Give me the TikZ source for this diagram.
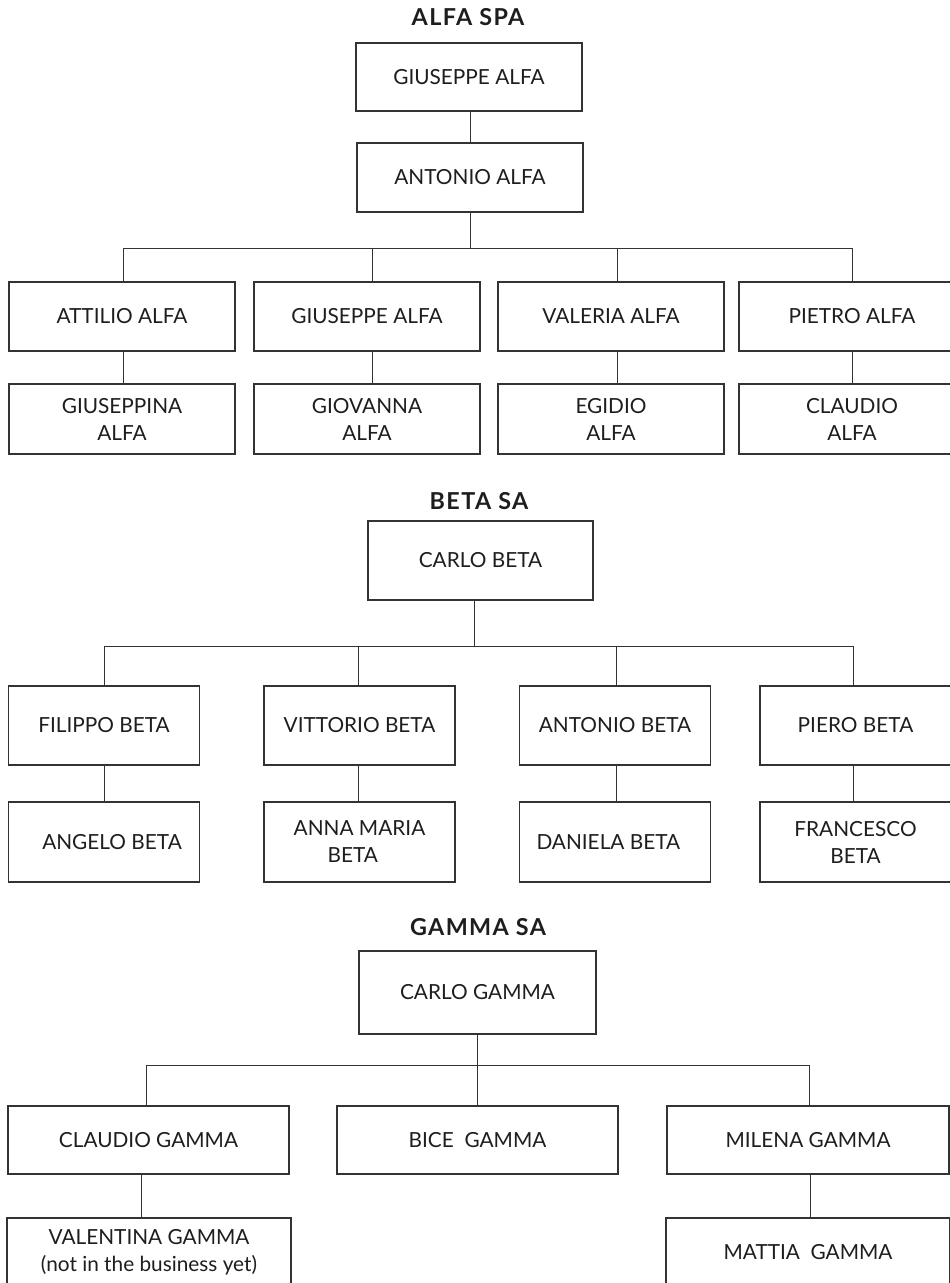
\documentclass[tikz,border=0pt]{standalone}
\usepackage{fontspec}
\setmainfont{Lato}
\definecolor{linec}{HTML}{333333}
\definecolor{txt}{HTML}{1E1E1E}
\begin{document}
\begin{tikzpicture}[x=0.75pt,y=-0.75pt,
  box/.style={draw=linec, line width=0.8pt, rectangle, inner sep=0pt, align=center,
    font=\fontsize{15.6}{20.2}\selectfont, text=txt},
  sz/.style 2 args={minimum width=#1*0.75pt, minimum height=#2*0.75pt},
  ttl/.style={font=\fontsize{17.5}{18}\selectfont\bfseries\addfontfeatures{LetterSpace=6}, text=txt},
  conn/.style={draw=linec, line width=0.75pt}]
\clip (0,0) rectangle (950,1283);
\fill[white] (0,0) rectangle (950,1283);

% ---------------- ALFA SPA ----------------
\node[ttl] (tA) at (468,17) {ALFA SPA};
\node[box, sz={226}{68}] (a0) at (469,77) {GIUSEPPE ALFA};
\node[box, sz={226}{69}] (a1) at (470,177.5) {ANTONIO ALFA};
\coordinate (aH) at (470,248);
\coordinate (aL) at (123,248);
\coordinate (aM1) at (372,248);
\coordinate (aM2) at (617,248);
\coordinate (aR) at (852,248);

\node[box, sz={226}{69}] (a21) at (122,316.5) {ATTILIO ALFA};
\node[box, sz={226}{69}] (a22) at (367,316.5) {GIUSEPPE ALFA};
\node[box, sz={226}{69}] (a23) at (611,316.5) {VALERIA ALFA};
\node[box, sz={226}{69}] (a24) at (852,316.5) {PIETRO ALFA};

\node[box, sz={226}{70}] (a31) at (122,419) {GIUSEPPINA\\ALFA};
\node[box, sz={226}{70}] (a32) at (367,419) {GIOVANNA\\ALFA};
\node[box, sz={226}{70}] (a33) at (611,419) {EGIDIO\\ALFA};
\node[box, sz={226}{70}] (a34) at (852,419) {CLAUDIO\\ALFA};

\draw[conn] (a1.north |- a0.south) -- (a1.north);
\draw[conn] (a1.south) -- (aH);
\draw[conn] (aL) -- (aR);
\draw[conn] (aL) -- (aL |- a21.north);
\draw[conn] (aM1) -- (aM1 |- a22.north);
\draw[conn] (aM2) -- (aM2 |- a23.north);
\draw[conn] (aR) -- (aR |- a24.north);
\draw[conn] (aL |- a21.south) -- (aL |- a31.north);
\draw[conn] (aM1 |- a22.south) -- (aM1 |- a32.north);
\draw[conn] (aM2 |- a23.south) -- (aM2 |- a33.north);
\draw[conn] (aR |- a24.south) -- (aR |- a34.north);

% ---------------- BETA SA ----------------
\node[ttl] (tB) at (479,501) {BETA SA};
\node[box, sz={225}{79}] (b0) at (480.5,560.5) {CARLO BETA};
\coordinate (bH) at (474,646);
\coordinate (bL) at (104,646);
\coordinate (bM1) at (358,646);
\coordinate (bM2) at (616,646);
\coordinate (bR) at (853,646);

\node[box, sz={191}{79}] (b21) at (104,725.5) {FILIPPO BETA};
\node[box, sz={191}{79}] (b22) at (359.5,725.5) {VITTORIO BETA};
\node[box, sz={191}{79}] (b23) at (615,725.5) {ANTONIO BETA};
\node[box, sz={191}{79}] (b24) at (855.5,725.5) {PIERO BETA};

\node[box, sz={191}{80}] (b31) at (104,842) {\hspace*{12pt}ANGELO BETA};
\node[box, sz={191}{80}] (b32) at (359.5,842) {ANNA MARIA\\BETA\hspace*{10pt}};
\node[box, sz={191}{80}] (b33) at (615,842) {DANIELA BETA\hspace*{10pt}};
\node[box, sz={191}{80}] (b34) at (855.5,842) {FRANCESCO\\BETA};

\draw[conn] (bH |- b0.south) -- (bH);
\draw[conn] (bL) -- (bR);
\draw[conn] (bL) -- (bL |- b21.north);
\draw[conn] (bM1) -- (bM1 |- b22.north);
\draw[conn] (bM2) -- (bM2 |- b23.north);
\draw[conn] (bR) -- (bR |- b24.north);
\draw[conn] (bL |- b21.south) -- (bL |- b31.north);
\draw[conn] (bM1 |- b22.south) -- (bM1 |- b32.north);
\draw[conn] (bM2 |- b23.south) -- (bM2 |- b33.north);
\draw[conn] (bR |- b24.south) -- (bR |- b34.north);

% ---------------- GAMMA SA ----------------
\node[ttl] (tG) at (478,927) {GAMMA SA};
\node[box, sz={237}{83}] (g0) at (477.5,992.5) {CARLO GAMMA};
\coordinate (gH) at (477,1065);
\coordinate (gL) at (146,1065);
\coordinate (gR) at (809,1065);

\node[box, sz={281}{68}] (g21) at (148.5,1140) {CLAUDIO GAMMA};
\node[box, sz={281}{68}] (g22) at (477.5,1140) {BICE~~GAMMA};
\node[box, sz={282}{68}] (g23) at (808,1140) {MILENA GAMMA};

\coordinate (gD1) at (141,1174);
\coordinate (gD2) at (810,1174);
\node[box, sz={284}{68}] (g31) at (149,1252) {VALENTINA GAMMA\\(not in the business yet)};
\node[box, sz={284}{68}] (g33) at (808,1252) {MATTIA~~GAMMA};

\draw[conn] (gH |- g0.south) -- (gH);
\draw[conn] (gL) -- (gR);
\draw[conn] (gL) -- (gL |- g21.north);
\draw[conn] (gH) -- (gH |- g22.north);
\draw[conn] (gR) -- (gR |- g23.north);
\draw[conn] (gD1) -- (gD1 |- g31.north);
\draw[conn] (gD2) -- (gD2 |- g33.north);
\end{tikzpicture}
\end{document}
